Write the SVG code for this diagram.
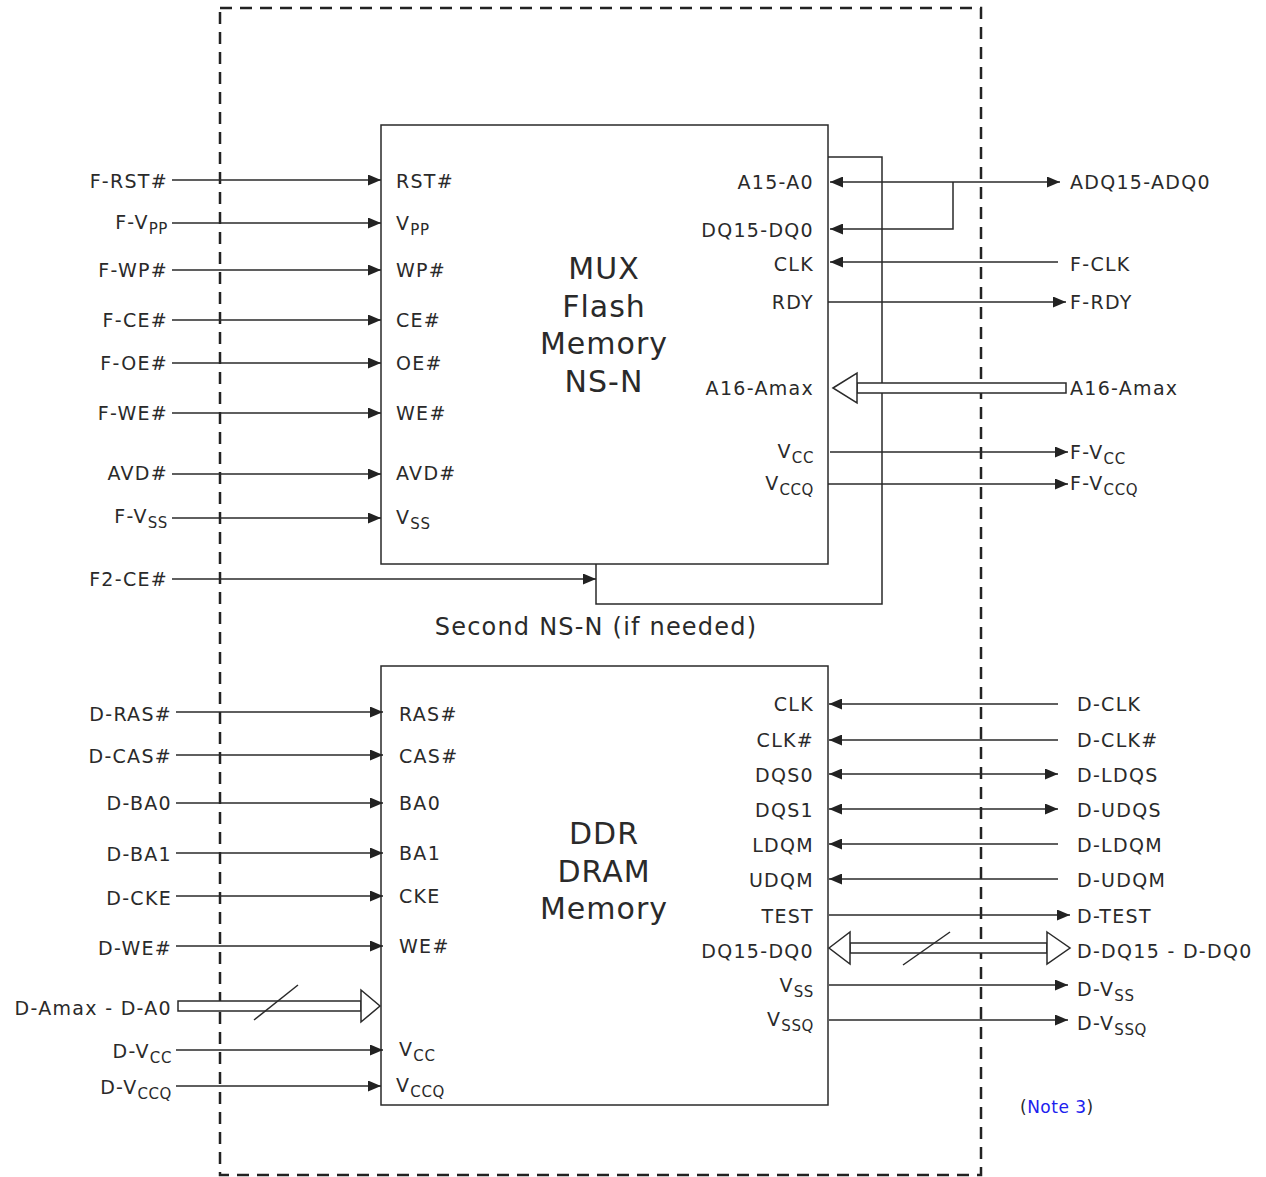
<svg xmlns="http://www.w3.org/2000/svg" width="1266" height="1177" viewBox="0 0 1266 1177">
<defs>
<marker id="arr" viewBox="0 0 13 11" refX="13" refY="5.5" markerWidth="13" markerHeight="11" markerUnits="userSpaceOnUse" orient="auto-start-reverse">
<path d="M0,0 L13,5.5 L0,11 z" fill="#222"/>
</marker>
<style>
text{font-family:"DejaVu Sans","Verdana",sans-serif;font-size:19px;fill:#2a2a2a;letter-spacing:1.3px}
.e{text-anchor:end}
.t{font-size:30px;text-anchor:middle;letter-spacing:1px}
.s{font-size:15px;letter-spacing:0.6px}
.w{stroke:#2a2a2a;stroke-width:1.5;fill:none}
.a{stroke:#2a2a2a;stroke-width:1.5;fill:none;marker-end:url(#arr)}
.b{stroke:#2a2a2a;stroke-width:1.5;fill:none;marker-end:url(#arr);marker-start:url(#arr)}
.h{stroke:#2a2a2a;stroke-width:1.5;fill:#fff}
</style>
</defs>
<rect width="1266" height="1177" fill="#fff"/>
<rect id="boundary" x="220" y="8" width="761" height="1167" fill="none" stroke="#222" stroke-width="2.5" stroke-dasharray="12 8"/>

<g id="flash2">
<path class="w" d="M828,157 H882 V604 H596 V564"/>
</g>
<g id="flash">
<rect class="w" x="381" y="125" width="447" height="439"/>
<text class="t" x="604" y="279">MUX</text>
<text class="t" x="604" y="317">Flash</text>
<text class="t" x="604" y="354">Memory</text>
<text class="t" x="604" y="392">NS-N</text>
<text x="396" y="188">RST#</text>
<text x="396" y="230">V<tspan class="s" dy="5">PP</tspan></text>
<text x="396" y="277">WP#</text>
<text x="396" y="327">CE#</text>
<text x="396" y="370">OE#</text>
<text x="396" y="420">WE#</text>
<text x="396" y="480">AVD#</text>
<text x="396" y="524">V<tspan class="s" dy="5">SS</tspan></text>
<text class="e" x="814" y="189">A15-A0</text>
<text class="e" x="814" y="237">DQ15-DQ0</text>
<text class="e" x="814" y="271">CLK</text>
<text class="e" x="814" y="309">RDY</text>
<text class="e" x="814" y="395">A16-Amax</text>
<text class="e" x="814" y="458">V<tspan class="s" dy="5">CC</tspan></text>
<text class="e" x="814" y="490">V<tspan class="s" dy="5">CCQ</tspan></text>
</g>
<text x="596" y="635" style="font-size:24px;text-anchor:middle;letter-spacing:1.2px">Second NS-N (if needed)</text>

<g id="ddr">
<rect class="w" x="381" y="666" width="447" height="439"/>
<text class="t" x="604" y="844">DDR</text>
<text class="t" x="604" y="882">DRAM</text>
<text class="t" x="604" y="919">Memory</text>
<text x="399" y="721">RAS#</text>
<text x="399" y="763">CAS#</text>
<text x="399" y="810">BA0</text>
<text x="399" y="860">BA1</text>
<text x="399" y="903">CKE</text>
<text x="399" y="953">WE#</text>
<text x="399" y="1056">V<tspan class="s" dy="5">CC</tspan></text>
<text x="396" y="1092">V<tspan class="s" dy="5">CCQ</tspan></text>
<text class="e" x="814" y="711">CLK</text>
<text class="e" x="814" y="747">CLK#</text>
<text class="e" x="814" y="782">DQS0</text>
<text class="e" x="814" y="817">DQS1</text>
<text class="e" x="814" y="852">LDQM</text>
<text class="e" x="814" y="887">UDQM</text>
<text class="e" x="814" y="923">TEST</text>
<text class="e" x="814" y="958">DQ15-DQ0</text>
<text class="e" x="814" y="992">V<tspan class="s" dy="5">SS</tspan></text>
<text class="e" x="814" y="1026">V<tspan class="s" dy="5">SSQ</tspan></text>
</g>

<g id="ext-labels">
<text class="e" x="168" y="188">F-RST#</text>
<text class="e" x="168" y="229">F-V<tspan class="s" dy="5">PP</tspan></text>
<text class="e" x="168" y="277">F-WP#</text>
<text class="e" x="168" y="327">F-CE#</text>
<text class="e" x="168" y="370">F-OE#</text>
<text class="e" x="168" y="420">F-WE#</text>
<text class="e" x="168" y="480">AVD#</text>
<text class="e" x="168" y="523">F-V<tspan class="s" dy="5">SS</tspan></text>
<text class="e" x="168" y="586">F2-CE#</text>
<text class="e" x="172" y="721">D-RAS#</text>
<text class="e" x="172" y="763">D-CAS#</text>
<text class="e" x="172" y="810">D-BA0</text>
<text class="e" x="172" y="861">D-BA1</text>
<text class="e" x="172" y="905">D-CKE</text>
<text class="e" x="172" y="955">D-WE#</text>
<text class="e" x="172" y="1015">D-Amax - D-A0</text>
<text class="e" x="172" y="1058">D-V<tspan class="s" dy="5">CC</tspan></text>
<text class="e" x="172" y="1094">D-V<tspan class="s" dy="5">CCQ</tspan></text>
<text x="1070" y="189">ADQ15-ADQ0</text>
<text x="1070" y="271">F-CLK</text>
<text x="1070" y="309">F-RDY</text>
<text x="1070" y="395">A16-Amax</text>
<text x="1070" y="459">F-V<tspan class="s" dy="5">CC</tspan></text>
<text x="1070" y="490">F-V<tspan class="s" dy="5">CCQ</tspan></text>
<text x="1077" y="711">D-CLK</text>
<text x="1077" y="747">D-CLK#</text>
<text x="1077" y="782">D-LDQS</text>
<text x="1077" y="817">D-UDQS</text>
<text x="1077" y="852">D-LDQM</text>
<text x="1077" y="887">D-UDQM</text>
<text x="1077" y="923">D-TEST</text>
<text x="1077" y="958">D-DQ15 - D-DQ0</text>
<text x="1077" y="996">D-V<tspan class="s" dy="5">SS</tspan></text>
<text x="1077" y="1030">D-V<tspan class="s" dy="5">SSQ</tspan></text>
<text x="1020" y="1113" style="font-size:17px;letter-spacing:0.5px">(<tspan fill="#2020ee">Note 3</tspan>)</text>
</g>

<g id="connectors">
<line class="a" x1="172" y1="180" x2="381" y2="180"/>
<line class="a" x1="172" y1="223" x2="381" y2="223"/>
<line class="a" x1="172" y1="270" x2="381" y2="270"/>
<line class="a" x1="172" y1="320" x2="381" y2="320"/>
<line class="a" x1="172" y1="363" x2="381" y2="363"/>
<line class="a" x1="172" y1="413" x2="381" y2="413"/>
<line class="a" x1="172" y1="474" x2="381" y2="474"/>
<line class="a" x1="172" y1="518" x2="381" y2="518"/>
<line class="a" x1="172" y1="579" x2="596" y2="579"/>
<line class="b" x1="830" y1="182" x2="1060" y2="182"/>
<path class="a" d="M953,182 V229 H830"/>
<line class="a" x1="1058" y1="262" x2="830" y2="262"/>
<line class="a" x1="828" y1="302" x2="1066" y2="302"/>
<path class="h" d="M857,383 H1066 V393 H857 z"/>
<path class="h" d="M833,388 L857,373 L857,403 z"/>
<line class="a" x1="830" y1="452" x2="1068" y2="452"/>
<line class="a" x1="828" y1="484" x2="1068" y2="484"/>

<line class="a" x1="176" y1="712" x2="383" y2="712"/>
<line class="a" x1="176" y1="755" x2="383" y2="755"/>
<line class="a" x1="176" y1="803" x2="383" y2="803"/>
<line class="a" x1="176" y1="853" x2="383" y2="853"/>
<line class="a" x1="176" y1="896" x2="383" y2="896"/>
<line class="a" x1="176" y1="946" x2="383" y2="946"/>
<path class="h" d="M178,1001 H361 V1011 H178 z"/>
<path class="h" d="M361,990 L380,1006 L361,1022 z"/>
<line class="w" x1="254" y1="1020" x2="298" y2="985"/>
<line class="a" x1="176" y1="1050" x2="383" y2="1050"/>
<line class="a" x1="176" y1="1086" x2="381" y2="1086"/>

<line class="a" x1="1058" y1="704" x2="829" y2="704"/>
<line class="a" x1="1058" y1="740" x2="829" y2="740"/>
<line class="b" x1="829" y1="774" x2="1058" y2="774"/>
<line class="b" x1="829" y1="809" x2="1058" y2="809"/>
<line class="a" x1="1058" y1="844" x2="829" y2="844"/>
<line class="a" x1="1058" y1="879" x2="829" y2="879"/>
<line class="a" x1="829" y1="915" x2="1070" y2="915"/>
<path class="h" d="M850,943 H1047 V953 H850 z"/>
<path class="h" d="M829,948 L850,932 L850,964 z"/>
<path class="h" d="M1047,932 L1070,948 L1047,964 z"/>
<line class="w" x1="903" y1="965" x2="950" y2="932"/>
<line class="a" x1="829" y1="985" x2="1068" y2="985"/>
<line class="a" x1="829" y1="1020" x2="1068" y2="1020"/>
</g>
</svg>
